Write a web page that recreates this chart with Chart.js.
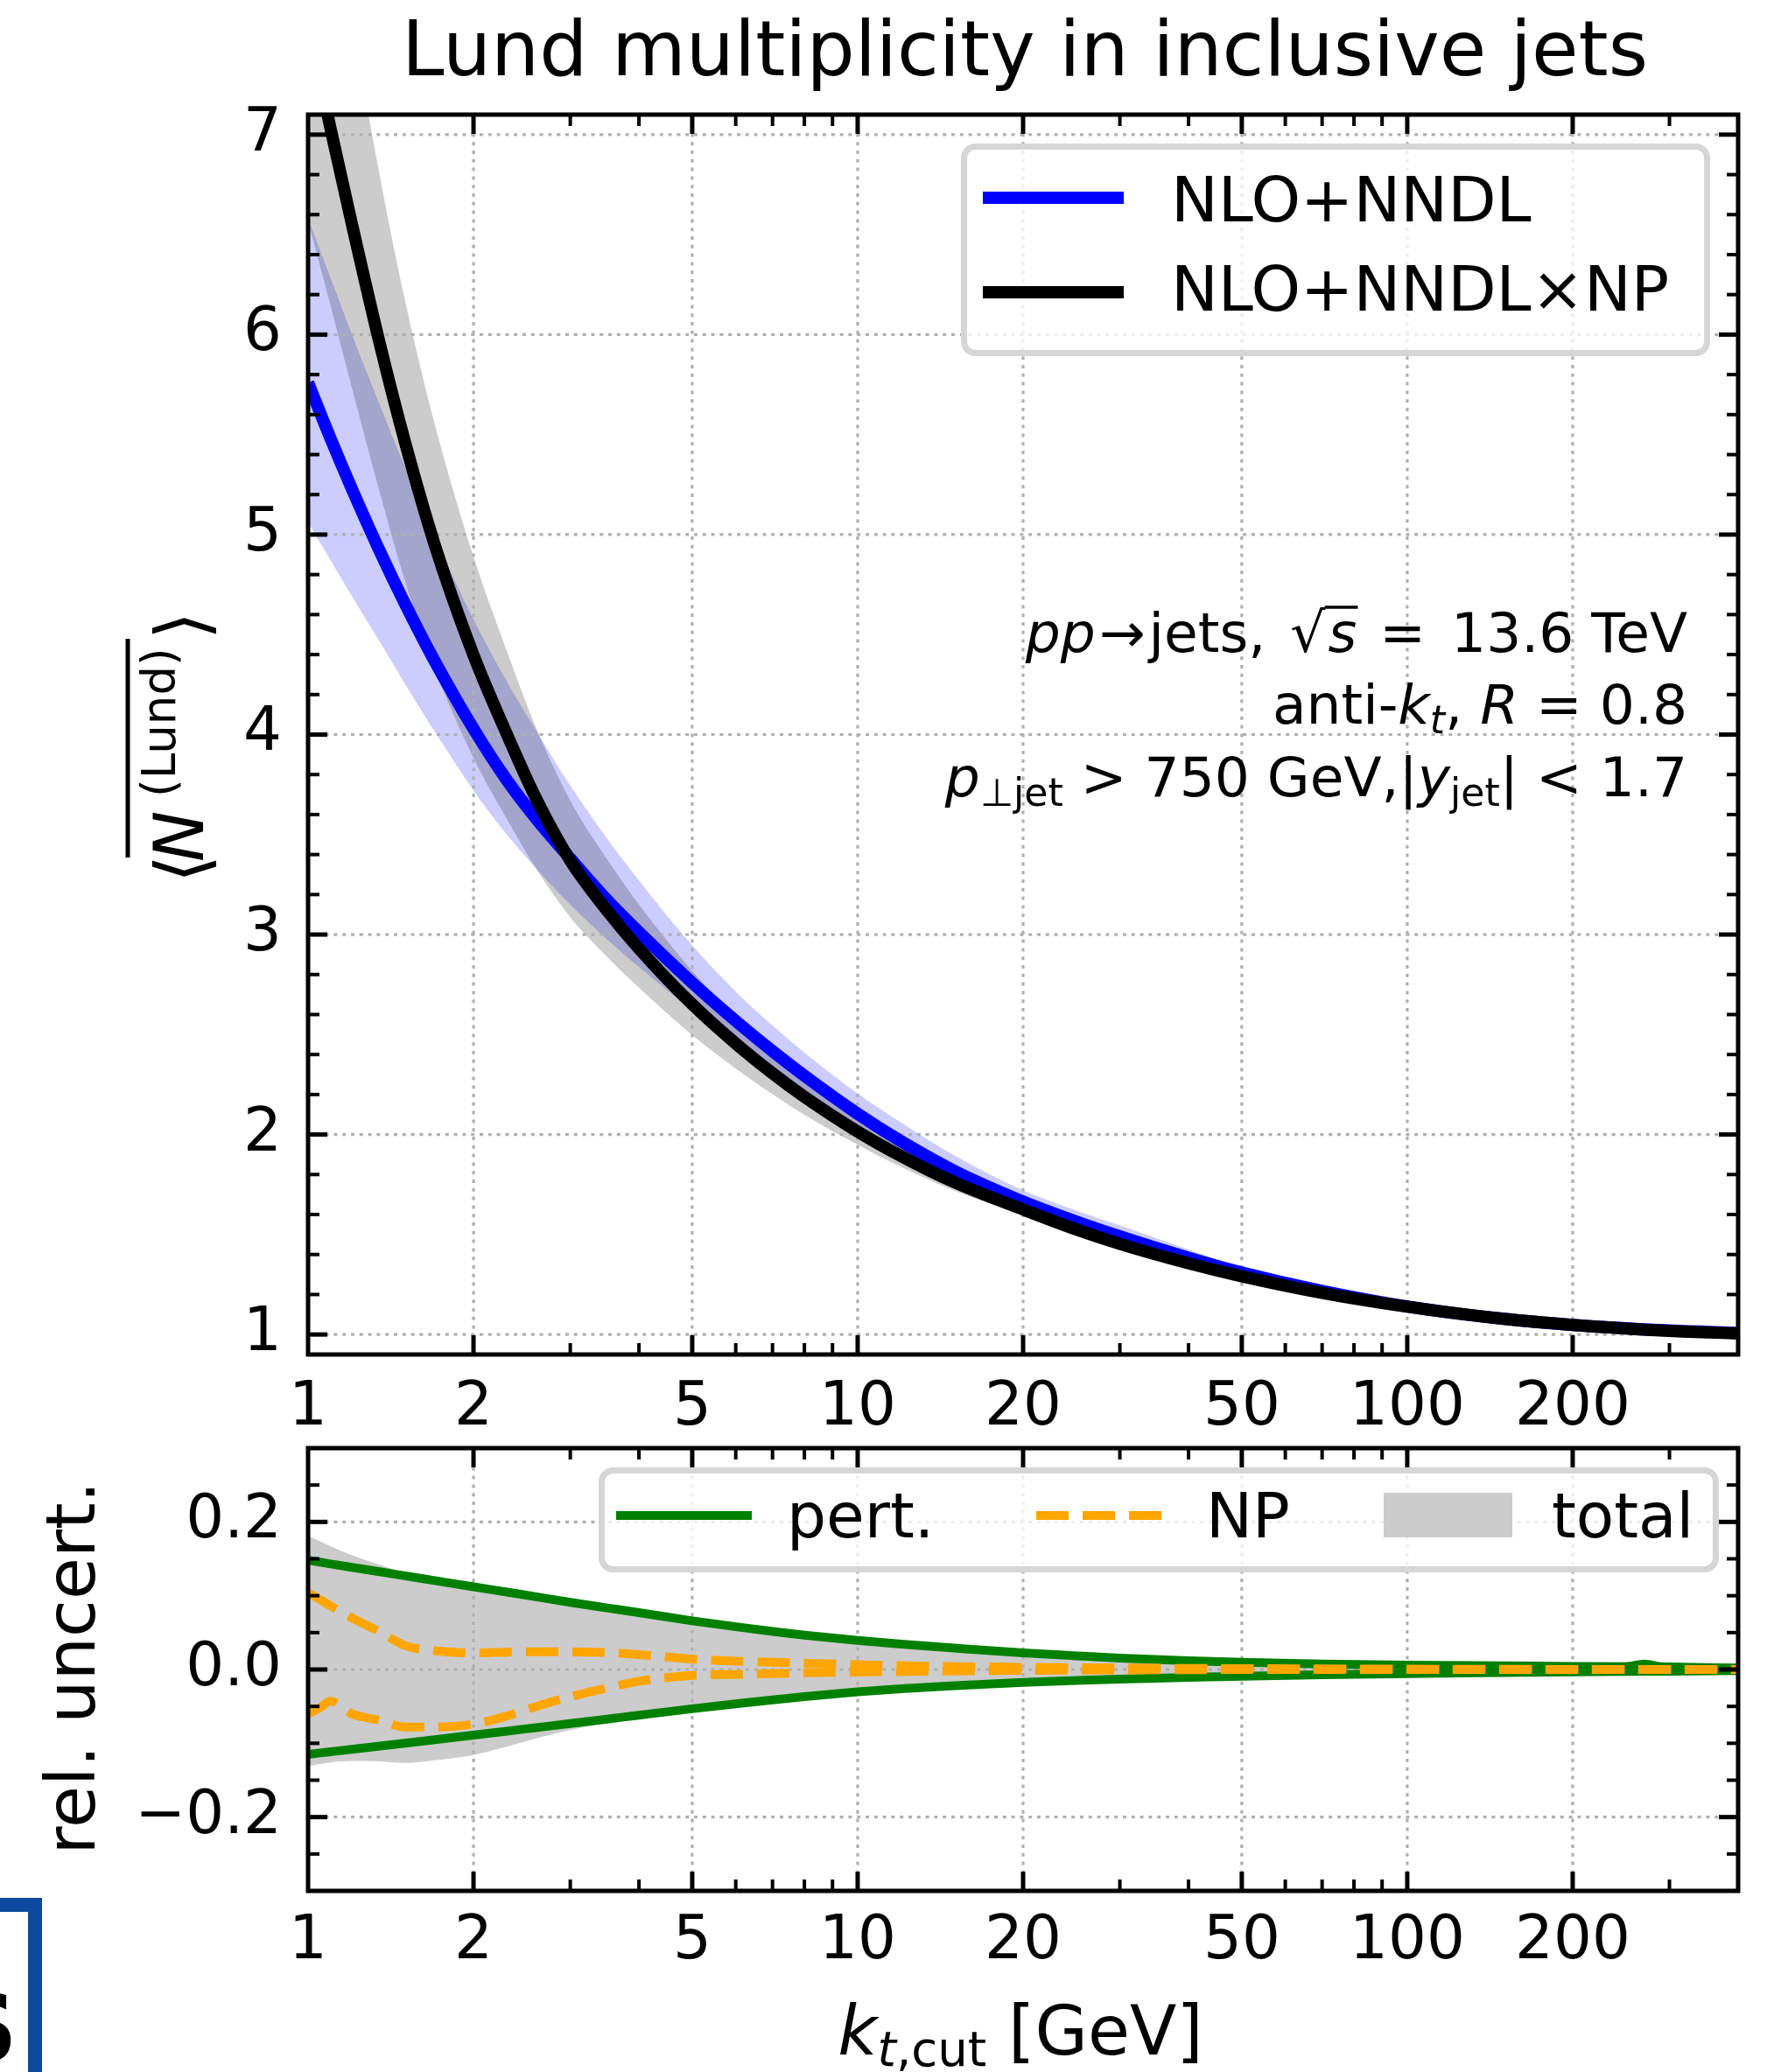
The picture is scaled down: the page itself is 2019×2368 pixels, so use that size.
<!DOCTYPE html>
<html><head><meta charset="utf-8">
<script src="https://cdn.jsdelivr.net/npm/chart.js@4/dist/chart.umd.min.js"></script>
<style>
html,body{margin:0;padding:0;background:#fff;}
#wrap{position:relative;width:2019px;height:2368px;overflow:hidden;background:#fff;}
canvas{position:absolute;left:0;}
#c1{top:0;}
#c2{top:1560px;}
</style></head><body>
<div id="wrap">
<canvas id="c1" width="2019" height="1645"></canvas>
<canvas id="c2" width="2019" height="808"></canvas>
</div>
<script>
// ---------------- data ----------------
const kt = [1, 1.1, 1.2, 1.35, 1.5, 1.7, 2, 2.3, 2.6, 3, 3.5, 4, 5, 6, 7, 8, 10, 12, 15, 20, 25, 30, 40, 50, 70, 100, 150, 200, 300, 400];
const nloNndl   = [5.76, 5.477, 5.232, 4.918, 4.656, 4.367, 4.029, 3.772, 3.58, 3.38, 3.173, 3.012, 2.759, 2.568, 2.417, 2.294, 2.104, 1.966, 1.818, 1.665, 1.565, 1.491, 1.384, 1.31, 1.218, 1.14, 1.078, 1.048, 1.02, 1.008];
const nloNndlLo = [5.06, 4.87, 4.695, 4.465, 4.255, 4.015, 3.72, 3.50, 3.33, 3.15, 2.975, 2.838, 2.62, 2.455, 2.318, 2.205, 2.03, 1.905, 1.765, 1.615, 1.525, 1.46, 1.365, 1.295, 1.205, 1.132, 1.073, 1.045, 1.017, 1.006];
const nloNndlHi = [6.58, 6.28, 6.005, 5.65, 5.34, 4.99, 4.575, 4.265, 4.02, 3.745, 3.48, 3.27, 2.945, 2.715, 2.545, 2.41, 2.205, 2.06, 1.895, 1.72, 1.62, 1.545, 1.425, 1.335, 1.23, 1.148, 1.083, 1.052, 1.024, 1.011];
const nloNndlNp   = [7.55, 7.025, 6.56, 5.956, 5.465, 4.949, 4.397, 4.002, 3.68, 3.37, 3.12, 2.93, 2.651, 2.455, 2.306, 2.189, 2.015, 1.892, 1.761, 1.625, 1.525, 1.453, 1.356, 1.291, 1.208, 1.139, 1.078, 1.048, 1.018, 1.006];
const nloNndlNpLo = [6.569, 6.140, 5.740, 5.212, 4.771, 4.330, 3.883, 3.578, 3.330, 3.087, 2.889, 2.734, 2.497, 2.330, 2.202, 2.099, 1.949, 1.837, 1.719, 1.596, 1.502, 1.434, 1.341, 1.279, 1.200, 1.133, 1.074, 1.045, 1.016, 1.005];
const nloNndlNpHi = [8.924, 8.198, 7.577, 6.796, 6.175, 5.553, 4.889, 4.418, 4.033, 3.670, 3.376, 3.150, 2.818, 2.590, 2.421, 2.292, 2.098, 1.960, 1.816, 1.666, 1.557, 1.479, 1.375, 1.305, 1.219, 1.147, 1.084, 1.053, 1.022, 1.008];

const ktRel = [1, 1.05, 1.1, 1.2, 1.35, 1.5, 1.7, 2, 2.3, 2.6, 3, 3.5, 4, 5, 6, 7, 8, 10, 12, 15, 20, 25, 30, 40, 50, 70, 100, 150, 200, 250, 270, 290, 300, 400];
const pertHi = [0.148, 0.1455, 0.143, 0.1385, 0.1325, 0.127, 0.1205, 0.112, 0.105, 0.0985, 0.091, 0.0835, 0.077, 0.066, 0.058, 0.0515, 0.0465, 0.0395, 0.0345, 0.029, 0.0225, 0.0185, 0.0155, 0.012, 0.0098, 0.0075, 0.006, 0.005, 0.0042, 0.0038, 0.0075, 0.0038, 0.0035, 0.002];
const pertLo = [-0.115, -0.1131, -0.1114, -0.1082, -0.1038, -0.0999, -0.0952, -0.089, -0.0836, -0.0788, -0.0732, -0.0672, -0.0619, -0.0532, -0.0465, -0.0411, -0.0368, -0.0303, -0.026, -0.0218, -0.0175, -0.0148, -0.013, -0.0108, -0.0092, -0.0072, -0.0055, -0.0042, -0.0033, -0.0027, -0.0025, -0.0024, -0.0023, -0.0015];
const npHi = [0.104, 0.095, 0.086, 0.070, 0.051, 0.0325, 0.0255, 0.0225, 0.0235, 0.024, 0.0238, 0.023, 0.0202, 0.014, 0.0113, 0.0098, 0.0085, 0.0065, 0.0052, 0.004, 0.003, 0.0024, 0.002, 0.0015, 0.0012, 0.0008, 0.0005, 0.0003, 0, 0, 0, 0, 0, 0];
const npLo = [-0.060, -0.052, -0.043, -0.060, -0.069, -0.078, -0.078, -0.074, -0.063, -0.050, -0.037, -0.025, -0.016, -0.008, -0.0067, -0.0055, -0.0045, -0.0035, -0.0028, -0.002, -0.0012, -0.0008, -0.0005, -0.0003, 0, 0, 0, 0, 0, 0, 0, 0, 0, 0];
const totalHi = [0.181, 0.174, 0.167, 0.155, 0.142, 0.131, 0.123, 0.114, 0.108, 0.1015, 0.094, 0.0866, 0.0797, 0.0675, 0.0591, 0.0524, 0.0472, 0.040, 0.0349, 0.0293, 0.0227, 0.0187, 0.0156, 0.0121, 0.0098, 0.0076, 0.006, 0.005, 0.0042, 0.0038, 0.0075, 0.0038, 0.0035, 0.002];
const totalLo = [-0.131, -0.128, -0.126, -0.124, -0.1245, -0.1265, -0.123, -0.1158, -0.1047, -0.0933, -0.082, -0.0717, -0.0642, -0.054, -0.047, -0.0414, -0.037, -0.0305, -0.0261, -0.0219, -0.0175, -0.0148, -0.013, -0.0108, -0.0092, -0.0072, -0.0055, -0.0042, -0.0033, -0.0027, -0.0025, -0.0024, -0.0023, -0.0015];

// ---------------- ticks / labels ----------------
const xTickValues = [1, 2, 5, 10, 20, 50, 100, 200];
const xTickLabels = ['1', '2', '5', '10', '20', '50', '100', '200'];
const xMinorValues = [3, 4, 6, 7, 8, 9, 30, 40, 60, 70, 80, 90, 300];
const yTopTickValues = [1, 2, 3, 4, 5, 6, 7];
const yTopTickLabels = ['1', '2', '3', '4', '5', '6', '7'];
const yTopMinorValues = [1.2,1.4,1.6,1.8,2.2,2.4,2.6,2.8,3.2,3.4,3.6,3.8,4.2,4.4,4.6,4.8,5.2,5.4,5.6,5.8,6.2,6.4,6.6,6.8];
const yRelTickValues = [-0.2, 0, 0.2];
const yRelTickLabels = ['\u22120.2', '0.0', '0.2'];
const yRelMinorValues = [-0.25, -0.15, -0.1, -0.05, 0.05, 0.1, 0.15, 0.25];

const titleText = 'Lund multiplicity in inclusive jets';
const legendTop = ['NLO+NNDL', 'NLO+NNDL\u00d7NP'];
const legendRel = ['pert.', 'NP', 'total'];

// ---------------- helpers ----------------
const FAM = '"DejaVu Sans"';
const OY2 = 1560; // page y of second canvas
function pts(xs, ys) { return xs.map((x, i) => ({x: x, y: ys[i]})); }
function seg(ctx, x1, y1, x2, y2) { ctx.beginPath(); ctx.moveTo(x1, y1); ctx.lineTo(x2, y2); ctx.stroke(); }
function segFont(s, size) { const px = (s.sub || s.sup) ? size * 0.7 : size; return (s.it ? 'italic ' : '') + px.toFixed(1) + 'px ' + FAM; }
function richDraw(ctx, segs, x, base, size, align) {
  let tot = 0;
  for (const s of segs) { ctx.font = segFont(s, size); s._tw = ctx.measureText(s.t).width; s._w = s._tw + (s.gap || 0); tot += s._w; }
  let cx = align === 'right' ? x - tot : (align === 'center' ? x - tot / 2 : x);
  ctx.textAlign = 'left'; ctx.textBaseline = 'alphabetic'; ctx.fillStyle = '#000'; ctx.strokeStyle = '#000';
  for (const s of segs) {
    ctx.font = segFont(s, size);
    const dy = s.sub ? size * 0.17 : (s.sup ? -size * 0.4 : 0);
    ctx.fillText(s.t, cx, base + dy);
    if (s.over) { ctx.lineWidth = size * 0.055; seg(ctx, cx - size * 0.06, base - size * 0.81, cx + s._tw + size * 0.02, base - size * 0.81); }
    cx += s._w;
  }
}
function roundRect(ctx, x, y, w, h, r) {
  ctx.beginPath(); ctx.moveTo(x + r, y); ctx.lineTo(x + w - r, y); ctx.arcTo(x + w, y, x + w, y + r, r);
  ctx.lineTo(x + w, y + h - r); ctx.arcTo(x + w, y + h, x + w - r, y + h, r); ctx.lineTo(x + r, y + h);
  ctx.arcTo(x, y + h, x, y + h - r, r); ctx.lineTo(x, y + r); ctx.arcTo(x, y, x + r, y, r); ctx.closePath();
}
function drawGrid(chart, yGrid) {
  const ctx = chart.ctx, a = chart.chartArea, xs = chart.scales.x, ys = chart.scales.y;
  ctx.save();
  ctx.beginPath(); ctx.rect(a.left, a.top, a.right - a.left, a.bottom - a.top); ctx.clip();
  ctx.strokeStyle = '#b0b0b0'; ctx.lineWidth = 3.2; ctx.setLineDash([4, 5.8]); ctx.lineCap = 'butt';
  for (const v of xTickValues) { if (v === 1) continue; const p = xs.getPixelForValue(v); seg(ctx, p, a.bottom, p, a.top); }
  for (const v of yGrid) { const p = ys.getPixelForValue(v); seg(ctx, a.left, p, a.right, p); }
  ctx.restore();
}
function drawFrame(chart, yMaj, yMin) {
  const ctx = chart.ctx, a = chart.chartArea, xs = chart.scales.x, ys = chart.scales.y;
  ctx.save(); ctx.strokeStyle = '#000'; ctx.lineCap = 'butt'; ctx.setLineDash([]);
  const MJ = 22, MN = 13;
  ctx.lineWidth = 5;
  for (const v of xTickValues) { if (v === 1) continue; const p = xs.getPixelForValue(v); seg(ctx, p, a.bottom, p, a.bottom - MJ); seg(ctx, p, a.top, p, a.top + MJ); }
  for (const v of yMaj) { const p = ys.getPixelForValue(v); seg(ctx, a.left, p, a.left + MJ, p); seg(ctx, a.right, p, a.right - MJ, p); }
  ctx.lineWidth = 4;
  for (const v of xMinorValues) { const p = xs.getPixelForValue(v); seg(ctx, p, a.bottom, p, a.bottom - MN); seg(ctx, p, a.top, p, a.top + MN); }
  for (const v of yMin) { const p = ys.getPixelForValue(v); seg(ctx, a.left, p, a.left + MN, p); seg(ctx, a.right, p, a.right - MN, p); }
  ctx.lineWidth = 5;
  ctx.strokeRect(a.left, a.top, a.right - a.left, a.bottom - a.top);
  ctx.restore();
}
function band(data, color) {
  return {data: data, borderWidth: 0, borderColor: 'rgba(0,0,0,0)', backgroundColor: color, pointRadius: 0, clip: 0};
}
function line(label, data, color, width, dash) {
  return {label: label, data: data, borderColor: color, borderWidth: width, borderDash: dash || [], fill: false, pointRadius: 0, clip: 0, borderCapStyle: 'butt'};
}
function scalesFor(yMin, yMax, yTicks, yLabels, xHeight, xPad) {
  const tickFont = {family: 'DejaVu Sans', size: 69};
  return {
    x: {type: 'logarithmic', min: 1, max: 400, bounds: 'data',
        grid: {display: false, drawTicks: false}, border: {display: false},
        afterBuildTicks: ax => { ax.ticks = xTickValues.map(v => ({value: v})); },
        afterFit: ax => { ax.height = xHeight; },
        ticks: {autoSkip: false, maxRotation: 0, minRotation: 0, padding: xPad, color: '#000', font: tickFont,
                callback: (v, i) => xTickLabels[i]}},
    y: {type: 'linear', min: yMin, max: yMax, bounds: 'data',
        grid: {display: false, drawTicks: false}, border: {display: false},
        afterBuildTicks: ax => { ax.ticks = yTicks.map(v => ({value: v})); },
        afterFit: ax => { ax.width = 352; },
        ticks: {autoSkip: false, padding: 30, color: '#000', font: tickFont,
                callback: (v, i) => yLabels[i]}}
  };
}
const baseOpts = {
  responsive: false, animation: false, devicePixelRatio: 1, events: [],
  plugins: {legend: {display: false}, title: {display: false}, tooltip: {enabled: false}, filler: {propagate: false}},
  elements: {point: {radius: 0}, line: {cubicInterpolationMode: 'monotone', borderJoinStyle: 'round'}}
};

// ---------------- top panel ----------------
const topPlugin = {
  id: 'decoTop',
  afterDatasetDraw(chart, args) { if (args.index === 3) drawGrid(chart, yTopTickValues); },
  afterDatasetsDraw(chart) { drawFrame(chart, yTopTickValues, yTopMinorValues); },
  afterDraw(chart) {
    const ctx = chart.ctx;
    ctx.save();
    // title
    ctx.fillStyle = '#000'; ctx.textAlign = 'center'; ctx.textBaseline = 'alphabetic';
    ctx.font = '87px ' + FAM; ctx.fillText(titleText, 1171, 86);
    // legend
    roundRect(ctx, 1101.5, 167.5, 849, 236, 13);
    ctx.fillStyle = 'rgba(255,255,255,0.8)'; ctx.fill();
    ctx.lineWidth = 7; ctx.strokeStyle = '#d6d6d6'; ctx.stroke();
    ctx.lineCap = 'butt';
    ctx.lineWidth = 14; ctx.strokeStyle = '#0000ff'; seg(ctx, 1123, 226, 1284, 226);
    ctx.strokeStyle = '#000000'; seg(ctx, 1123, 334, 1284, 334);
    ctx.fillStyle = '#000'; ctx.textAlign = 'left'; ctx.font = '72px ' + FAM;
    ctx.fillText(legendTop[0], 1338, 253);
    ctx.fillText(legendTop[1], 1338, 355);
    // annotation
    const S = 63, XR = 1928;
    richDraw(ctx, [{t: 'pp', it: 1, gap: 4}, {t: '\u2192', gap: 4}, {t: 'jets,'}, {t: ' ', gap: 8}, {t: '\u221a', gap: 3}, {t: 's', it: 1, over: 1}, {t: ' ', gap: 6}, {t: '='}, {t: ' ', gap: 9}, {t: '13.6 TeV'}], XR, 745, S, 'right');
    richDraw(ctx, [{t: 'anti-'}, {t: 'k', it: 1}, {t: 't', it: 1, sub: 1}, {t: ', '}, {t: 'R', it: 1}, {t: ' = 0.8'}], XR, 827, S, 'right');
    richDraw(ctx, [{t: 'p', it: 1}, {t: '\u22a5jet', sub: 1}, {t: ' > 750 GeV,'}, {t: '|'}, {t: 'y', it: 1}, {t: 'jet', sub: 1}, {t: '|'}, {t: ' < 1.7'}], XR, 910, S, 'right');
    // y label  <N^(Lund)> with overline, rotated
    ctx.translate(232, 1003); ctx.rotate(-Math.PI / 2);
    ctx.textAlign = 'left'; ctx.textBaseline = 'alphabetic'; ctx.fillStyle = '#000';
    ctx.font = '82px ' + FAM; ctx.fillText('\u27e8', -6, 4);
    ctx.font = 'italic 78px ' + FAM; ctx.fillText('N', 18, 0);
    ctx.font = '53px ' + FAM; ctx.fillText('(Lund)', 92, -32);
    ctx.font = '82px ' + FAM; ctx.fillText('\u27e9', 272, 4);
    ctx.strokeStyle = '#000'; ctx.lineWidth = 5; seg(ctx, 23, -86, 273, -86);
    ctx.restore();
  }
};
new Chart(document.getElementById('c1'), {
  type: 'line',
  data: {datasets: [
    Object.assign(band(pts(kt, nloNndlLo), 'rgba(0,0,0,0)'), {fill: false, order: 6}),
    Object.assign(band(pts(kt, nloNndlHi), 'rgba(0,0,255,0.2)'), {fill: '-1', order: 5}),
    Object.assign(band(pts(kt, nloNndlNpLo), 'rgba(0,0,0,0)'), {fill: false, order: 4}),
    Object.assign(band(pts(kt, nloNndlNpHi), 'rgba(0,0,0,0.2)'), {fill: '-1', order: 3}),
    Object.assign(line(legendTop[0], pts(kt, nloNndl), '#0000ff', 14), {order: 2}),
    Object.assign(line(legendTop[1], pts(kt, nloNndlNp), '#000000', 14), {order: 1})
  ]},
  options: Object.assign({}, baseOpts, {
    layout: {padding: {left: 0, right: 33, top: 131, bottom: 0}},
    scales: scalesFor(0.9, 7.1, yTopTickValues, yTopTickLabels, 1645 - 1548, 21)
  }),
  plugins: [topPlugin]
});

// ---------------- bottom panel ----------------
const relPlugin = {
  id: 'decoRel',
  afterDatasetDraw(chart, args) { if (args.index === 1) drawGrid(chart, yRelTickValues); },
  afterDatasetsDraw(chart) { drawFrame(chart, yRelTickValues, yRelMinorValues); },
  afterDraw(chart) {
    const ctx = chart.ctx;
    ctx.save();
    ctx.translate(0, -OY2); // page coordinates from here on
    // legend
    roundRect(ctx, 687.5, 1680.5, 1273, 113, 13);
    ctx.fillStyle = 'rgba(255,255,255,0.8)'; ctx.fill();
    ctx.lineWidth = 7; ctx.strokeStyle = '#d6d6d6'; ctx.stroke();
    ctx.lineCap = 'butt';
    ctx.lineWidth = 10; ctx.strokeStyle = '#008000'; seg(ctx, 704, 1732, 859, 1732);
    ctx.strokeStyle = '#ffa500'; ctx.setLineDash([37, 16]); seg(ctx, 1184, 1732, 1329, 1732); ctx.setLineDash([]);
    ctx.fillStyle = '#cccccc'; ctx.fillRect(1581, 1706, 147, 51);
    ctx.fillStyle = '#000'; ctx.textAlign = 'left'; ctx.textBaseline = 'alphabetic'; ctx.font = '71px ' + FAM;
    ctx.fillText(legendRel[0], 899, 1757);
    ctx.fillText(legendRel[1], 1378, 1757);
    ctx.fillText(legendRel[2], 1773, 1757);
    // x label
    richDraw(ctx, [{t: 'k', it: 1}, {t: 't', it: 1, sub: 1}, {t: ',cut', sub: 1}, {t: ' [GeV]'}], 1166, 2348, 78, 'center');
    // logo fragment
    ctx.fillStyle = '#0b4a9e'; ctx.fillRect(0, 2169, 48, 16); ctx.fillRect(32, 2169, 16, 200);
    ctx.fillStyle = '#000'; ctx.font = 'bold 107px ' + FAM; ctx.textAlign = 'right'; ctx.fillText('S', 20, 2355);
    // y label
    ctx.translate(108, 1906); ctx.rotate(-Math.PI / 2);
    ctx.textAlign = 'center'; ctx.font = '78px ' + FAM; ctx.fillStyle = '#000';
    ctx.fillText('rel. uncert.', 0, 0);
    ctx.restore();
  }
};
new Chart(document.getElementById('c2'), {
  type: 'line',
  data: {datasets: [
    Object.assign(band(pts(ktRel, totalLo), 'rgba(0,0,0,0)'), {fill: false, order: 5}),
    Object.assign(band(pts(ktRel, totalHi), 'rgba(0,0,0,0.2)'), {fill: '-1', order: 4}),
    Object.assign(line(legendRel[0], pts(ktRel, pertHi), '#008000', 10), {order: 3}),
    Object.assign(line(legendRel[0], pts(ktRel, pertLo), '#008000', 10), {order: 3}),
    Object.assign(line(legendRel[1], pts(ktRel, npHi), '#ffa500', 10, [37, 16]), {order: 1}),
    Object.assign(line(legendRel[1], pts(ktRel, npLo), '#ffa500', 10, [37, 16]), {order: 1})
  ]},
  options: Object.assign({}, baseOpts, {
    layout: {padding: {left: 0, right: 33, top: 1655 - OY2, bottom: 0}},
    scales: scalesFor(-0.3, 0.3, yRelTickValues, yRelTickLabels, 808 - (2161 - OY2), 18)
  }),
  plugins: [relPlugin]
});
</script>
</body></html>
